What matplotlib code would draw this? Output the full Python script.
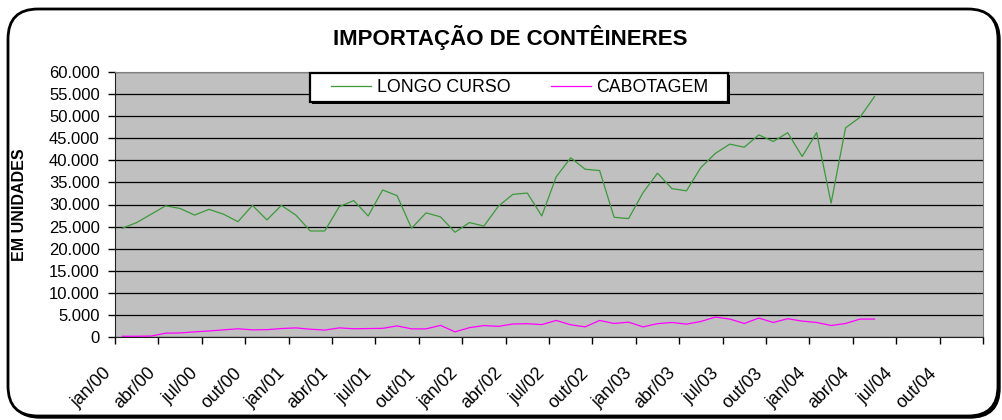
import matplotlib
matplotlib.use('Agg')
import matplotlib.pyplot as plt
import numpy as np
from matplotlib.patches import FancyBboxPatch, Rectangle
from matplotlib.ticker import FuncFormatter

plt.rcParams['font.family'] = ['Liberation Sans', 'DejaVu Sans']

# monthly container imports, jan/00 .. mai/04
longo_curso = [24600, 25900, 27800, 29700, 29100, 27600, 28900, 27800, 26100, 29800,
               26500, 29800, 27600, 24000, 24000, 29500, 30900, 27400, 33300, 32000,
               24600, 28100, 27200, 23700, 25900, 25100, 29600, 32300, 32600, 27400,
               36300, 40600, 38000, 37700, 27100, 26800, 32700, 37100, 33600, 33100,
               38400, 41600, 43700, 43000, 45800, 44300, 46300, 40900, 46300, 30300,
               47400, 49800, 54500]
cabotagem = [100, 100, 150, 800, 850, 1100, 1300, 1550, 1800, 1550,
             1600, 1850, 2000, 1700, 1500, 2000, 1800, 1850, 1900, 2450,
             1780, 1780, 2570, 1100, 2050, 2530, 2350, 2880, 2950, 2750,
             3690, 2700, 2230, 3690, 3000, 3300, 2230, 2960, 3230, 2850,
             3460, 4460, 4000, 3000, 4230, 3230, 4080, 3540, 3230, 2540,
             3000, 4000, 4000]

# quarterly tick labels (axis runs jan/00 .. dez/04)
tick_labels = ['jan/00', 'abr/00', 'jul/00', 'out/00',
               'jan/01', 'abr/01', 'jul/01', 'out/01',
               'jan/02', 'abr/02', 'jul/02', 'out/02',
               'jan/03', 'abr/03', 'jul/03', 'out/03',
               'jan/04', 'abr/04', 'jul/04', 'out/04']
n_months = 60

W, H = 1002, 420
fig = plt.figure(figsize=(W / 100, H / 100), dpi=100)

# rounded chart border with a little shadow (pixel coords, origin bottom-left)
shadow = FancyBboxPatch((10, 2), 990, 408, boxstyle='round,pad=0,rounding_size=30',
                        transform=None, facecolor='black', edgecolor='black', zorder=-6)
frame = FancyBboxPatch((8, 4), 990, 407, boxstyle='round,pad=0,rounding_size=30',
                       transform=None, facecolor='white', edgecolor='black',
                       linewidth=2, zorder=-5)
fig.add_artist(shadow)
fig.add_artist(frame)

ax = fig.add_axes([115 / W, 1 - 336.7 / H, (983 - 115) / W, (336.7 - 72.3) / H])
ax.set_facecolor('#C0C0C0')

x = np.arange(len(longo_curso)) + 0.5
ax.plot(x, longo_curso, color='#3A9A3A', lw=0.9, label='LONGO CURSO')
ax.plot(x, cabotagem, color='#FF00FF', lw=0.9, label='CABOTAGEM')

ax.set_xlim(0, n_months)
ax.set_ylim(0, 60000)
ax.set_yticks(np.arange(0, 60001, 5000))
ax.yaxis.set_major_formatter(FuncFormatter(lambda v, p: f'{v:,.0f}'.replace(',', '.')))
ax.set_xticks(np.arange(0, n_months + 1, 3))
ax.set_xticklabels(tick_labels + [''], rotation=45, ha='right')
ax.tick_params(axis='y', direction='out', length=5, width=1, pad=6, labelsize=12)
ax.tick_params(axis='x', direction='out', length=5, width=1, pad=15, labelsize=12.8)
ax.grid(axis='y', color='black', lw=0.9)
ax.set_axisbelow(True)
for side in ['top', 'right']:
    ax.spines[side].set_color('#808080')
for side in ['left', 'bottom']:
    ax.spines[side].set_color('#202020')

ax.set_ylabel('EM UNIDADES', fontsize=11.5, fontweight='bold')
ax.yaxis.set_label_coords(-88 / 868, 0.5)

fig.text(510 / W, 1 - 38 / H, 'IMPORTAÇÃO DE CONTÊINERES', ha='center', va='center',
         fontsize=16, fontweight='bold')

# legend box drawn separately so its padding matches the original
fig.add_artist(Rectangle((312, H - 104), 418, 29, transform=None,
                         facecolor='black', edgecolor='none', zorder=4))
fig.add_artist(Rectangle((310, H - 102), 418, 29, transform=None,
                         facecolor='white', edgecolor='black', lw=1.6, zorder=5))
leg = fig.legend(loc='center', bbox_to_anchor=(520 / W, 1 - 87.5 / H), ncol=2,
                 fontsize=12.8, frameon=False, handlelength=2.25,
                 handletextpad=0.3, columnspacing=2.3, borderpad=0, borderaxespad=0)
leg.set_zorder(6)

fig.savefig('out.png', dpi=100)
